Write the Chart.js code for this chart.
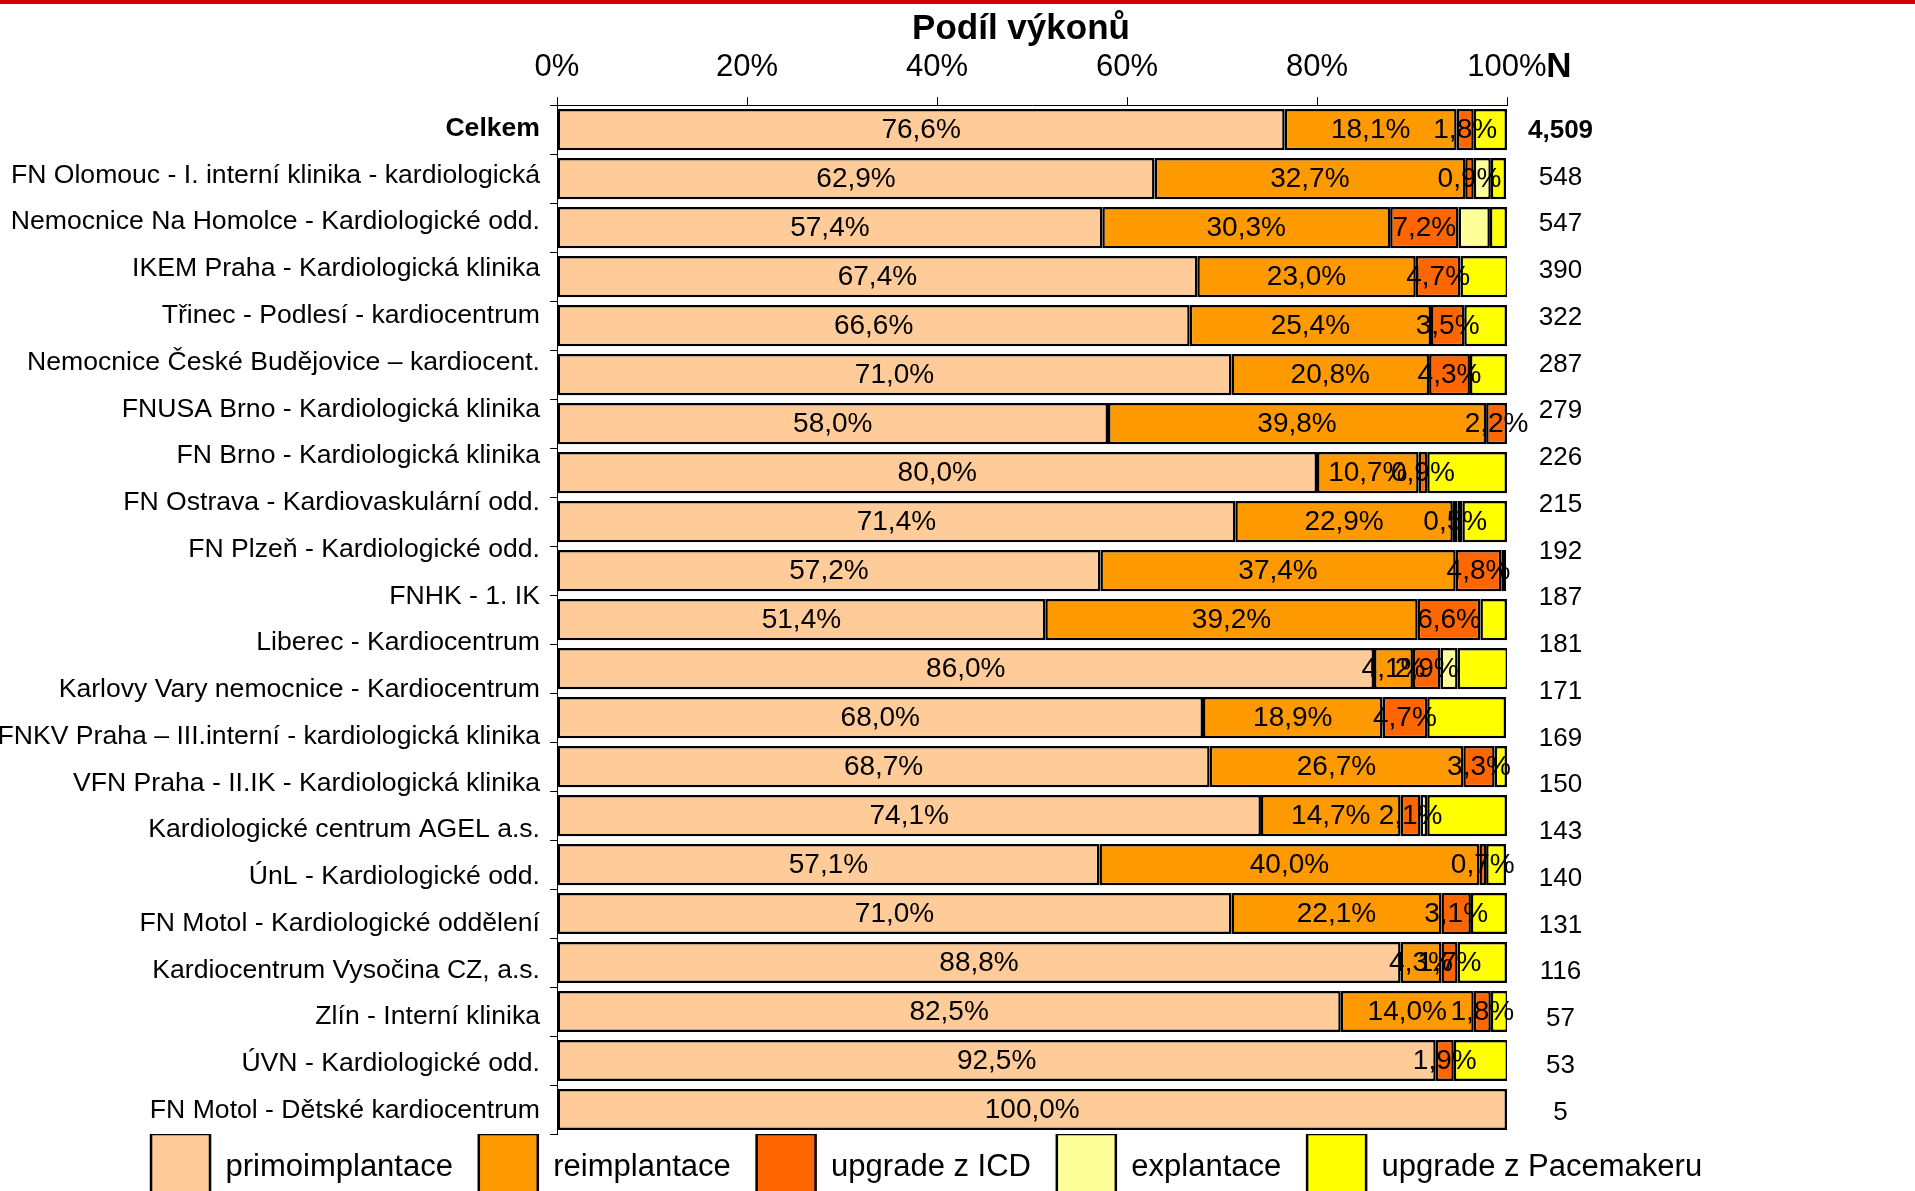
<!DOCTYPE html>
<html>
<head>
<meta charset="utf-8">
<title>Podíl výkonů</title>
<script src="https://cdn.jsdelivr.net/npm/chart.js"></script>
<style>
  body { margin: 0; overflow: hidden; background: #fff; }
  canvas { display: block; }
</style>
</head>
<body>
<canvas id="shareChart" width="1915" height="1210"></canvas>
<script>
// labels on the left (22 rows) and N column on the right
const categories = [
    'Celkem',
    'FN Olomouc - I. interní klinika - kardiologická',
    'Nemocnice Na Homolce - Kardiologické odd.',
    'IKEM Praha - Kardiologická klinika',
    'Třinec - Podlesí - kardiocentrum',
    'Nemocnice České Budějovice – kardiocent.',
    'FNUSA Brno - Kardiologická klinika',
    'FN Brno - Kardiologická klinika',
    'FN Ostrava - Kardiovaskulární odd.',
    'FN Plzeň - Kardiologické odd.',
    'FNHK - 1. IK',
    'Liberec - Kardiocentrum',
    'Karlovy Vary nemocnice - Kardiocentrum',
    'FNKV Praha – III.interní - kardiologická klinika',
    'VFN Praha - II.IK - Kardiologická klinika',
    'Kardiologické centrum AGEL a.s.',
    'ÚnL - Kardiologické odd.',
    'FN Motol - Kardiologické oddělení',
    'Kardiocentrum Vysočina CZ, a.s.',
    'Zlín - Interní klinika',
    'ÚVN - Kardiologické odd.',
    'FN Motol - Dětské kardiocentrum'
];
const nLabels = ['4,509', '548', '547', '390', '322', '287', '279', '226', '215', '192', '187',
    '181', '171', '169', '150', '143', '140', '131', '116', '57', '53', '5'];

// bars (21 of them, one per hospital)
const hospitals = categories.slice(1);
const primoimplantace = [76.6, 62.9, 57.4, 67.4, 66.6, 71.0, 58.0, 80.0, 71.4, 57.2, 51.4,
    86.0, 68.0, 68.7, 74.1, 57.1, 71.0, 88.8, 82.5, 92.5, 100.0];
const reimplantace = [18.1, 32.7, 30.3, 23.0, 25.4, 20.8, 39.8, 10.7, 22.9, 37.4, 39.2,
    4.1, 18.9, 26.7, 14.7, 40.0, 22.1, 4.3, 14.0, 0, 0];
const upgradeIcd = [1.8, 0.9, 7.2, 4.7, 3.5, 4.3, 2.2, 0.9, 0.5, 4.8, 6.6,
    2.9, 4.7, 3.3, 2.1, 0.7, 3.1, 1.7, 1.8, 1.9, 0];
const explantace = [0, 1.8, 3.3, 0, 0, 0, 0, 0, 0.5, 0, 0,
    1.8, 0, 0, 0.7, 0, 0, 0, 0, 0, 0];
const upgradePacemaker = [3.5, 1.6, 1.8, 5.0, 4.5, 3.9, 0, 8.4, 4.7, 0.5, 2.8,
    5.3, 8.3, 1.3, 8.4, 2.1, 3.8, 5.2, 1.8, 5.7, 0];
const xTicks = [0, 20, 40, 60, 80, 100];

Chart.defaults.font.family = '"Liberation Sans", Arial, sans-serif';
Chart.defaults.color = '#000';

const fmt = v => v.toFixed(1).replace('.', ',') + '%';

const decor = {
    id: 'decor',
    beforeDraw(chart) {
        const ctx = chart.ctx;
        ctx.save();
        ctx.fillStyle = '#d40000';
        ctx.fillRect(0, 0, chart.width, 4);
        ctx.restore();
    },
    afterDatasetsDraw(chart) {
        // value labels only on the first three series
        const ctx = chart.ctx;
        ctx.save();
        ctx.font = '28px "Liberation Sans", Arial, sans-serif';
        ctx.fillStyle = '#000';
        ctx.textAlign = 'center';
        ctx.textBaseline = 'middle';
        for (let i = 0; i < 3; i++) {
            const values = chart.data.datasets[i].data;
            chart.getDatasetMeta(i).data.forEach((bar, j) => {
                if (!values[j]) return;
                const p = bar.getProps(['x', 'base', 'y'], true);
                ctx.fillText(fmt(values[j]), (p.x + p.base) / 2, p.y + 1);
            });
        }
        ctx.restore();
    },
    afterDraw(chart) {
        const ctx = chart.ctx;
        const area = chart.chartArea;
        const yN = chart.scales.yN;
        ctx.save();
        ctx.fillStyle = '#000';
        ctx.textAlign = 'center';
        ctx.textBaseline = 'alphabetic';
        ctx.font = 'bold 35px "Liberation Sans", Arial, sans-serif';
        ctx.fillText('Podíl výkonů', (area.left + area.right) / 2 - 11, 39);
        ctx.fillText('N', yN.left + 21 + 31, 77);
        ctx.restore();
    }
};

const ctx = document.getElementById('shareChart').getContext('2d');
const shareChart = new Chart(ctx, {
    type: 'bar',
    data: {
        labels: hospitals,
        datasets: [
            { label: 'primoimplantace', data: primoimplantace, backgroundColor: '#ffcc99' },
            { label: 'reimplantace', data: reimplantace, backgroundColor: '#ff9900' },
            { label: 'upgrade z ICD', data: upgradeIcd, backgroundColor: '#ff6600' },
            { label: 'explantace', data: explantace, backgroundColor: '#ffff99' },
            { label: 'upgrade z Pacemakeru', data: upgradePacemaker, backgroundColor: '#ffff00' }
        ].map(d => Object.assign(d, {
            borderColor: '#000',
            borderWidth: 2.5,
            borderSkipped: false,
            barPercentage: 1,
            categoryPercentage: 0.84
        }))
    },
    options: {
        indexAxis: 'y',
        responsive: false,
        animation: false,
        layout: { padding: { top: 38, right: 36, left: 0, bottom: 0 } },
        scales: {
            x: {
                position: 'top',
                stacked: true,
                min: 0,
                max: 100,
                afterBuildTicks: scale => { scale.ticks = xTicks.map(v => ({ value: v })); },
                ticks: {
                    font: { size: 31 },
                    padding: 11,
                    maxRotation: 0,
                    callback: v => v + '%'
                },
                grid: { drawOnChartArea: false, tickLength: 8, color: '#000' },
                border: { color: '#000', width: 1 }
            },
            y: {
                stacked: true,
                weight: 0,
                ticks: { display: false },
                grid: { drawOnChartArea: false, tickLength: 7, color: '#000' },
                border: { color: '#000', width: 1 }
            },
            yLab: {
                type: 'category',
                position: 'left',
                weight: 1,
                labels: categories,
                grid: { display: false, drawTicks: false },
                border: { display: false },
                ticks: {
                    padding: 10,
                    autoSkip: false,
                    font: c => ({ size: 26.6, weight: c.index === 0 ? 'bold' : 'normal' })
                },
                afterFit: scale => { scale.width = 550; }
            },
            yN: {
                type: 'category',
                position: 'right',
                labels: nLabels,
                grid: { display: false, drawTicks: false },
                border: { display: false },
                ticks: {
                    padding: 21,
                    autoSkip: false,
                    crossAlign: 'center',
                    labelOffset: 2,
                    font: c => ({ size: 26, weight: c.index === 0 ? 'bold' : 'normal' })
                },
                afterFit: scale => { scale.width = 372; }
            }
        },
        plugins: {
            title: { display: false },
            tooltip: { enabled: false },
            legend: {
                position: 'bottom',
                labels: {
                    boxWidth: 59,
                    boxHeight: 66,
                    padding: 0,
                    font: { size: 31 },
                    // a few trailing spaces give the gap between items
                    generateLabels: chart => Chart.defaults.plugins.legend.labels.generateLabels(chart)
                        .map(item => Object.assign(item, { text: item.text + '   ' }))
                }
            }
        }
    },
    plugins: [decor]
});
</script>
</body>
</html>
